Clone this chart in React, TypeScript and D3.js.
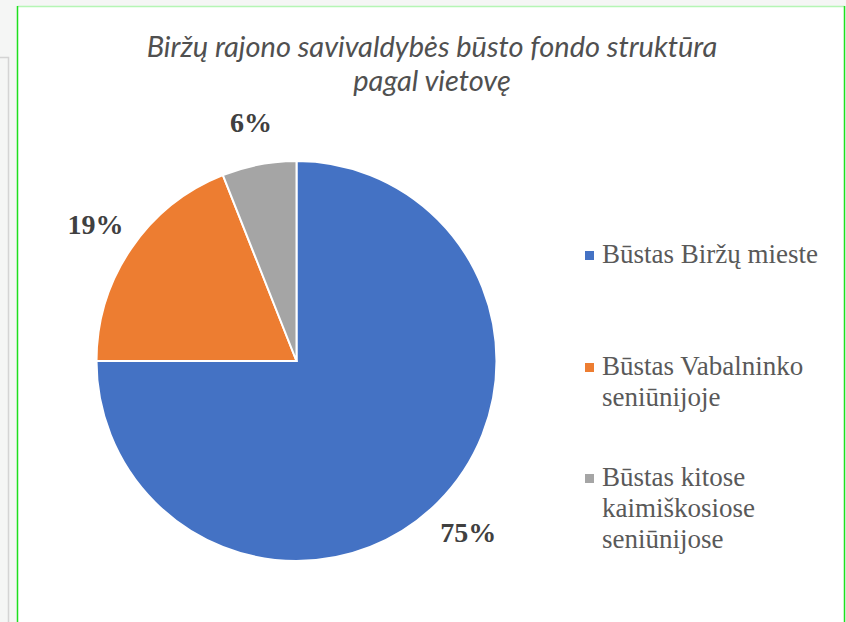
import React from 'react';
import * as d3 from 'd3';

const titleLines = ['Biržų rajono savivaldybės būsto fondo struktūra', 'pagal vietovę'];
const categories = ['Būstas Biržų mieste', 'Būstas Vabalninko seniūnijoje', 'Būstas kitose kaimiškosiose seniūnijose'];
const legendLines = [['Būstas Biržų mieste'], ['Būstas Vabalninko', 'seniūnijoje'], ['Būstas kitose', 'kaimiškosiose', 'seniūnijose']];
const values = [75, 19, 6];
const colors = ['#4472c4', '#ed7d31', '#a5a5a5'];

const serif = "'Liberation Serif', 'Times New Roman', serif";

export default function App() {
  const width = 846;
  const height = 622;
  const cx = 296.5;
  const cy = 361;
  const radius = 200;

  const pie = d3.pie<number>().sort(null).value(d => d);
  const arcs = pie(values);
  const arc = d3.arc<d3.PieArcDatum<number>>().innerRadius(0).outerRadius(radius);
  const labelArc = d3.arc<d3.PieArcDatum<number>>().innerRadius(243).outerRadius(243);

  const legendX = 585;
  const legendTop = [251, 363, 474];
  const lineGap = 31;

  return (
    <svg width={width} height={height} style={{ position: 'absolute', left: 0, top: 0, display: 'block' }}>
      {/* page behind the chart box */}
      <rect x={0} y={0} width={width} height={height} fill="#f5f6f5" />
      <path d="M0,57.5 H8.5 V622" fill="none" stroke="#d4d4d4" strokeWidth={1.5} />
      <rect x={17.5} y={6} width={827} height={620} fill="#ffffff" />
      <line x1={17.5} y1={6.5} x2={844.5} y2={6.5} stroke="#b5f5b5" strokeWidth={1.5} />
      <line x1={17.5} y1={6} x2={17.5} y2={622} stroke="#1ee01e" strokeWidth={1.5} />
      <line x1={844.5} y1={6} x2={844.5} y2={622} stroke="#1ee01e" strokeWidth={1.5} />

      {titleLines.map((t, i) => (
        <text key={t} x={432} y={57 + i * 34} textAnchor="middle"
          fontFamily="Lato, 'Open Sans', sans-serif" fontStyle="italic" fontSize={29} fill="#505050">
          {t}
        </text>
      ))}

      <g transform={`translate(${cx},${cy})`}>
        {arcs.map((a, i) => (
          <path key={categories[i]} d={arc(a) || ''} fill={colors[i]} stroke="#ffffff" strokeWidth={2} />
        ))}
        {arcs.map((a, i) => {
          const [lx, ly] = labelArc.centroid(a);
          return (
            <text key={'l' + i} x={lx} y={ly} textAnchor="middle" dominantBaseline="central"
              fontFamily={serif} fontWeight="bold" fontSize={28} fill="#404040">
              {d3.format('.0%')(a.data / d3.sum(values))}
            </text>
          );
        })}
      </g>

      {legendLines.map((lines, i) => (
        <g key={categories[i]}>
          <rect x={legendX} y={legendTop[i]} width={9} height={9} fill={colors[i]} />
          {lines.map((ln, j) => (
            <text key={ln} x={legendX + 17} y={legendTop[i] + 12 + j * lineGap}
              fontFamily={serif} fontSize={27} fill="#595959">
              {ln}
            </text>
          ))}
        </g>
      ))}
    </svg>
  );
}
